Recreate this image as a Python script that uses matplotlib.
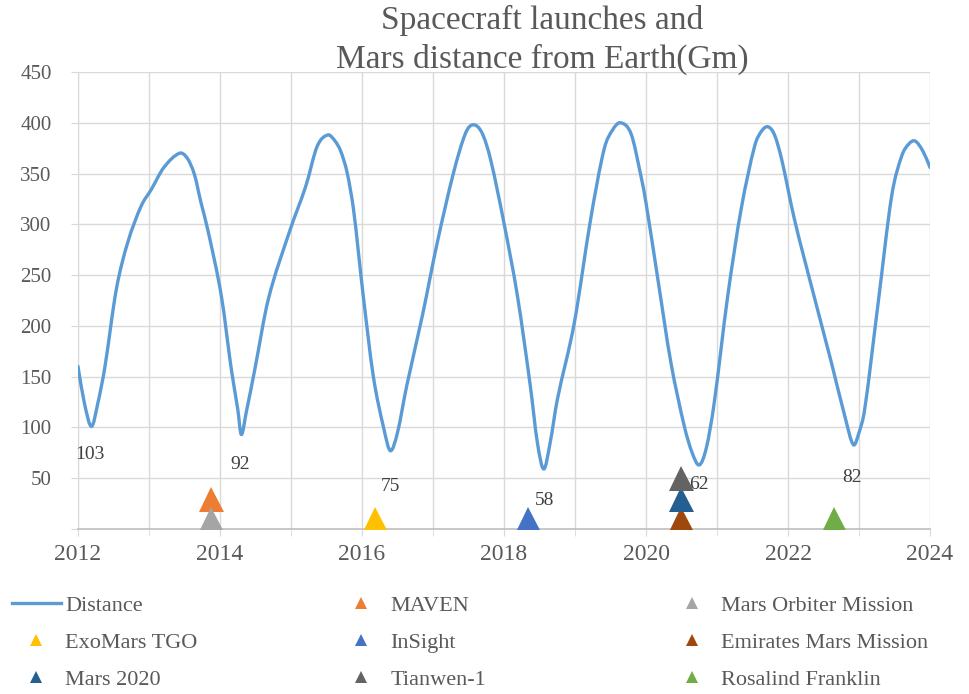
import matplotlib
matplotlib.use("Agg")
import matplotlib.pyplot as plt
from matplotlib.lines import Line2D
from matplotlib.path import Path
from matplotlib.patches import PathPatch

plt.rcParams['font.family'] = ['Liberation Serif', 'DejaVu Serif']

# ---- data ----
years = [2012.00, 2012.09, 2012.19, 2012.28, 2012.38, 2012.54, 2012.70, 2012.89,
         2013.03, 2013.21, 2013.43, 2013.54, 2013.64, 2013.73, 2013.83, 2014.02,
         2014.16, 2014.25, 2014.30, 2014.37, 2014.49, 2014.68, 2014.98, 2015.21,
         2015.37, 2015.52, 2015.62, 2015.70, 2015.79, 2015.88, 2015.95, 2016.02,
         2016.16, 2016.31, 2016.40, 2016.50, 2016.63, 2016.85, 2017.06, 2017.29,
         2017.46, 2017.57, 2017.69, 2017.81, 2018.00, 2018.19, 2018.37, 2018.47,
         2018.56, 2018.65, 2018.75, 2018.99, 2019.22, 2019.41, 2019.53, 2019.64,
         2019.79, 2019.93, 2020.00, 2020.16, 2020.35, 2020.54, 2020.65, 2020.75,
         2020.85, 2020.96, 2021.15, 2021.34, 2021.53, 2021.63, 2021.72, 2021.81,
         2021.91, 2022.09, 2022.33, 2022.61, 2022.80, 2022.92, 2023.00, 2023.08,
         2023.27, 2023.46, 2023.60, 2023.70, 2023.79, 2023.90, 2024.00]
distance = [160, 124, 101, 124, 160, 236, 282, 318,
            334, 356, 370, 365, 349, 322, 294, 229,
            157, 118, 93, 115, 157, 226, 293, 338,
            377, 388, 382, 372, 351, 315, 272, 228,
            150, 98, 77, 95, 141, 210, 282, 351,
            390, 398, 390, 364, 301, 229, 141, 85,
            59, 85, 127, 203, 305, 374, 393, 400,
            389, 347, 321, 249, 164, 101, 75, 63,
            80, 124, 229, 315, 377, 392, 396, 388,
            364, 305, 239, 164, 111, 83, 95, 118,
            223, 328, 367, 379, 382, 372, 356]

min_years = [2012.17, 2014.28, 2016.40, 2018.57, 2020.75, 2022.90]
min_values = [103, 92, 75, 58, 62, 82]

missions = ['MAVEN', 'Mars Orbiter Mission', 'ExoMars TGO', 'InSight',
            'Emirates Mars Mission', 'Mars 2020', 'Tianwen-1', 'Rosalind Franklin']
launch_years = [2013.88, 2013.88, 2016.18, 2018.34, 2020.49, 2020.49, 2020.49, 2022.65]
launch_values = [30, 10, 10, 10, 10, 30, 50, 10]

x_ticks = [2012, 2014, 2016, 2018, 2020, 2022, 2024]
y_ticks = [0, 50, 100, 150, 200, 250, 300, 350, 400, 450]
y_tick_labels = ['', '50', '100', '150', '200', '250', '300', '350', '400', '450']

# ---- style ----
mission_colors = ['#ed7d31', '#a5a5a5', '#ffc000', '#4472c4',
                  '#9e480e', '#255e91', '#636363', '#70ad47']
label_offsets = [-22, -21, -24, -22, -13, -23]
line_color = '#5b9bd5'
text_color = '#595959'
grid_color = '#d9d9d9'

fig = plt.figure(figsize=(9.70, 6.94), dpi=100)
ax = fig.add_axes([0.0804, 0.2378, 0.8784, 0.6585])


def smooth_path(xs, ys):
    """Smoothed line drawn as cubic Bezier segments through the read points."""
    n = len(xs)
    slopes = []
    for i in range(n):
        a = max(i - 1, 0)
        b = min(i + 1, n - 1)
        slopes.append((ys[b] - ys[a]) / (xs[b] - xs[a]))
    verts = [(xs[0], ys[0])]
    codes = [Path.MOVETO]
    for i in range(n - 1):
        h = xs[i + 1] - xs[i]
        verts += [(xs[i] + h / 3, ys[i] + slopes[i] * h / 3),
                  (xs[i + 1] - h / 3, ys[i + 1] - slopes[i + 1] * h / 3),
                  (xs[i + 1], ys[i + 1])]
        codes += [Path.CURVE4] * 3
    return Path(verts, codes)


ax.add_patch(PathPatch(smooth_path(years, distance), facecolor='none',
                       edgecolor=line_color, lw=2.4, capstyle='round',
                       joinstyle='round', zorder=3))

for x, v, off in zip(min_years, min_values, label_offsets):
    ax.annotate(str(v), (x, v), xytext=(0, off), textcoords='offset points',
                ha='center', va='center', fontsize=14, color='#404040', zorder=5)

for x, v, c in zip(launch_years, launch_values, mission_colors):
    ax.plot([x], [v], marker='^', markersize=18, color=c, linestyle='none',
            markeredgewidth=0, zorder=4)

ax.set_xlim(2012, 2024)
ax.set_ylim(0, 450)
ax.set_xticks(x_ticks)
ax.set_xticks(range(2012, 2025), minor=True)
ax.set_yticks(y_ticks)
ax.set_yticklabels(y_tick_labels)
ax.grid(True, which='both', axis='x', color=grid_color, lw=1)
ax.grid(True, which='major', axis='y', color=grid_color, lw=1)
ax.set_axisbelow(True)
for s in ['top', 'right']:
    ax.spines[s].set_visible(False)
ax.spines['left'].set_color(grid_color)
ax.spines['bottom'].set_color('#bfbfbf')
ax.spines['bottom'].set_linewidth(1.2)
ax.tick_params(axis='x', which='both', length=5, color=grid_color, labelsize=17,
               labelcolor=text_color, pad=6)
ax.tick_params(axis='y', length=5, color=grid_color, labelsize=15,
               labelcolor=text_color, pad=14)

fig.text(0.559, 1 - 5 / 694, 'Spacecraft launches and\nMars distance from Earth(Gm)',
         ha='center', va='top', fontsize=24, color=text_color, linespacing=1.3)

# ---- legend (row-major in three columns) ----
handles = [Line2D([], [], color=line_color, lw=2.4)]
handles += [Line2D([], [], marker='^', markersize=8, color=c, linestyle='none',
                   markeredgewidth=0) for c in mission_colors]
labels = ['Distance'] + missions
col_x = [12 / 970, 337 / 970, 668 / 970]
for ci in range(3):
    idx = [ci, ci + 3, ci + 6]
    leg = fig.legend([handles[i] for i in idx], [labels[i] for i in idx],
                     loc='upper left', bbox_to_anchor=(col_x[ci], 1 - 595 / 694),
                     frameon=False, fontsize=16, handlelength=2.2,
                     handletextpad=0.2, labelspacing=0.75, borderpad=0,
                     borderaxespad=0)
    for t in leg.get_texts():
        t.set_color(text_color)

fig.savefig('out.png', dpi=100)
